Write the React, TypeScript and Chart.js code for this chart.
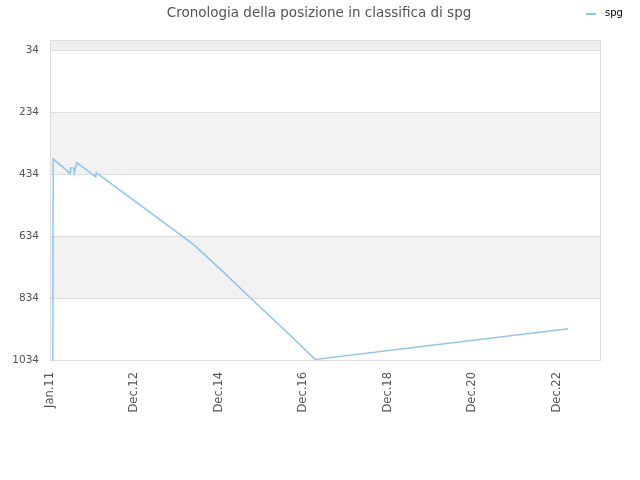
import { useEffect, useRef } from 'react';
import { Chart, registerables } from 'chart.js';

Chart.register(...registerables);

// x = months since Dec 2010, y = position in ranking
const monthsX = [0.8, 0.9, 5.7, 5.8, 6.8, 6.9, 7.6, 13.0, 13.1, 27.0, 40.9, 48.5, 58.0, 67.0, 75.3, 147.2];
const positions = [1034, 384, 431, 413, 414, 430, 396, 442, 429, 545, 662, 742, 845, 941, 1032, 933];

const yTicks = [34, 234, 434, 634, 834, 1034];
const xTickPos = [0, 24, 48, 72, 96, 120, 144];
const xTickLabels = ['Jan.11', 'Dec.12', 'Dec.14', 'Dec.16', 'Dec.18', 'Dec.20', 'Dec.22'];
const grayBands = [[0, 34, '#efefef'], [234, 434, '#f2f2f2'], [634, 834, '#f2f2f2']] as const;

const TITLE = 'Cronologia della posizione in classifica di spg';
const SERIES = 'spg';
const LINE_COLOR = '#8fc3f3';

const bandsPlugin = {
  id: 'bands',
  beforeDraw(chart: any) {
    const { ctx, chartArea } = chart;
    const y = chart.scales.y;
    ctx.save();
    ctx.fillStyle = '#ffffff';
    ctx.fillRect(chartArea.left, chartArea.top, chartArea.width, chartArea.height);
    grayBands.forEach(([a, b, c]) => {
      const y1 = y.getPixelForValue(a);
      const y2 = y.getPixelForValue(b);
      ctx.fillStyle = c;
      ctx.fillRect(chartArea.left, Math.min(y1, y2), chartArea.width, Math.abs(y2 - y1));
    });
    ctx.restore();
  },
  afterDraw(chart: any) {
    const { ctx, chartArea } = chart;
    ctx.save();
    // plot border
    ctx.strokeStyle = '#dddddd';
    ctx.lineWidth = 1;
    ctx.strokeRect(chartArea.left + 0.5, chartArea.top + 0.5, chartArea.width - 1, chartArea.height);
    // title
    ctx.fillStyle = '#555';
    ctx.font = '13.5px "DejaVu Sans"';
    ctx.textAlign = 'center';
    ctx.textBaseline = 'middle';
    ctx.fillText(TITLE, 319, 13);
    // legend
    ctx.strokeStyle = LINE_COLOR;
    ctx.lineWidth = 2;
    ctx.beginPath();
    ctx.moveTo(586, 14);
    ctx.lineTo(596, 14);
    ctx.stroke();
    ctx.fillStyle = '#000';
    ctx.font = '10px "DejaVu Sans"';
    ctx.textAlign = 'left';
    ctx.fillText(SERIES, 605, 13);
    ctx.restore();
  },
};

export default function App() {
  const chartRef = useRef<HTMLCanvasElement>(null);
  const chartInstanceRef = useRef<Chart | null>(null);

  useEffect(() => {
    document.body.style.margin = '0';
    const ctx = chartRef.current?.getContext('2d');
    if (!ctx) return;
    if (chartInstanceRef.current) chartInstanceRef.current.destroy();

    chartInstanceRef.current = new Chart(ctx, {
      type: 'line',
      data: {
        datasets: [
          {
            label: SERIES,
            data: monthsX.map((x, i) => ({ x, y: positions[i] })),
            borderColor: LINE_COLOR,
            backgroundColor: LINE_COLOR,
            borderWidth: 1.5,
            pointRadius: 0,
            tension: 0,
          },
        ],
      },
      options: {
        animation: false,
        responsive: false,
        layout: { padding: { top: 40, right: 39, left: 0, bottom: 0 } },
        plugins: {
          legend: { display: false },
          title: { display: false },
          tooltip: { enabled: false },
        },
        scales: {
          x: {
            type: 'linear',
            min: 0,
            max: 156.5,
            afterBuildTicks: (scale: any) => {
              scale.ticks = xTickPos.map((v) => ({ value: v }));
            },
            afterFit: (scale: any) => {
              scale.height = 120;
            },
            ticks: {
              autoSkip: false,
              minRotation: 90,
              maxRotation: 90,
              padding: 12,
              color: '#555',
              font: { family: 'DejaVu Sans', size: 11.5 },
              callback: (v: any) => {
                const i = xTickPos.indexOf(Number(v));
                return i >= 0 ? xTickLabels[i] : '';
              },
            },
            grid: { display: false, drawTicks: false },
            border: { display: false },
          },
          y: {
            type: 'linear',
            reverse: true,
            min: 0,
            max: 1034,
            afterBuildTicks: (scale: any) => {
              scale.ticks = yTicks.map((v) => ({ value: v }));
            },
            afterFit: (scale: any) => {
              scale.width = 50;
            },
            ticks: {
              padding: 11,
              color: '#555',
              font: { family: 'DejaVu Sans', size: 10.5 },
              callback: (v: any) => String(v),
            },
            grid: { color: '#dddddd', drawTicks: false },
            border: { display: false },
          },
        },
      },
      plugins: [bandsPlugin],
    });

    return () => {
      if (chartInstanceRef.current) {
        chartInstanceRef.current.destroy();
        chartInstanceRef.current = null;
      }
    };
  }, []);

  return (
    <div style={{ width: 640, height: 480, background: '#fff' }}>
      <canvas ref={chartRef} width={640} height={480} />
    </div>
  );
}
